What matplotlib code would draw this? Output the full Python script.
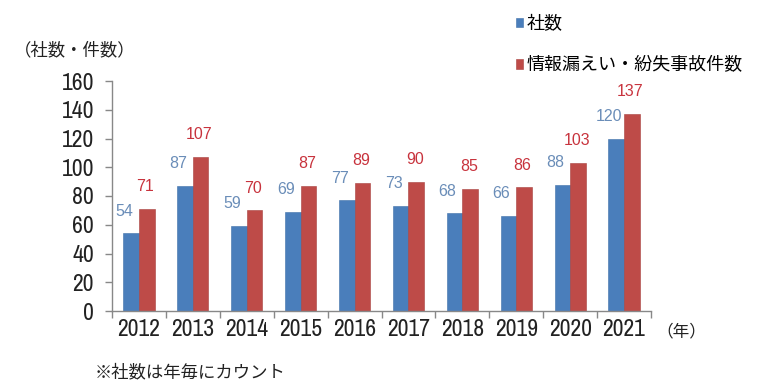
import matplotlib
matplotlib.use("Agg")
import matplotlib.pyplot as plt
import numpy as np

years = ["2012", "2013", "2014", "2015", "2016", "2017", "2018", "2019", "2020", "2021"]
companies = [54, 87, 59, 69, 77, 73, 68, 66, 88, 120]
incidents = [71, 107, 70, 87, 89, 90, 85, 86, 103, 137]
series_names = ["社数", "情報漏えい・紛失事故件数"]
yticks = [0, 20, 40, 60, 80, 100, 120, 140, 160]

CJK = ["Noto Sans CJK JP", "DejaVu Sans"]
NUM = ["Liberation Sans Narrow", "Archivo Narrow", "Asap Condensed", "Liberation Sans", "DejaVu Sans"]
LAB = ["Liberation Sans", "DejaVu Sans"]

blue = "#4A7EBB"
red = "#BE4B48"
blue_lab = "#6A8DB8"
red_lab = "#C8333D"

fig = plt.figure(figsize=(7.68, 3.90), dpi=100)
ax = fig.add_axes([112/768, 1-311/390, (651-112)/768, (311-81)/390])

x = np.arange(len(years))
w = 0.29
b1 = ax.bar(x - w/2, companies, w, color=blue, edgecolor="#3F6FA8", linewidth=0.4, label=series_names[0])
b2 = ax.bar(x + w/2, incidents, w, color=red, edgecolor="#A8403D", linewidth=0.4, label=series_names[1])

for xi, v in zip(x, companies):
    ax.annotate(str(v), (xi - w/2, v), xytext=(-5, 16), textcoords="offset points",
                ha="center", va="center", fontsize=11.5, color=blue_lab, family=LAB)
for xi, v in zip(x, incidents):
    ax.annotate(str(v), (xi + w/2, v), xytext=(-1, 16), textcoords="offset points",
                ha="center", va="center", fontsize=11.5, color=red_lab, family=LAB)

ax.set_xlim(-0.5, len(years) - 0.5)
ax.set_ylim(0, 160)
ax.set_yticks(yticks)
ax.set_yticklabels([str(t) for t in yticks], family=NUM, fontsize=17)
ax.set_xticks(x)
ax.set_xticklabels(years, family=NUM, fontsize=17)
ax.set_xticks(np.arange(-0.5, len(years)), minor=True)
ax.tick_params(axis="x", which="major", length=0, pad=6, colors="#222222")
ax.tick_params(axis="x", which="minor", length=5, width=1, color="#888888")
ax.tick_params(axis="y", which="major", length=5, width=1, color="#888888", pad=8, labelcolor="#222222")

for s in ["top", "right"]:
    ax.spines[s].set_visible(False)
for s in ["left", "bottom"]:
    ax.spines[s].set_color("#888888")
    ax.spines[s].set_linewidth(1)

leg = fig.legend(handles=[b1, b2], labels=series_names, loc="upper left",
                 bbox_to_anchor=(516/768, 1-15/390), frameon=False,
                 prop={"family": CJK, "size": 13}, handlelength=0.4, handleheight=0.4,
                 handletextpad=0.2, labelspacing=1.3, borderpad=0, borderaxespad=0)

fig.text(14/768, 1-50/390, "（社数・件数）", family=CJK, fontsize=12.5, va="center", ha="left", color="#222222")
fig.text(656/768, 1-332/390, "（年）", family=CJK, fontsize=12, va="center", ha="left", color="#222222")
fig.text(95/768, 1-372/390, "※社数は年毎にカウント", family=CJK, fontsize=12.5, va="center", ha="left", color="#222222")

fig.savefig("out.png", dpi=100)
